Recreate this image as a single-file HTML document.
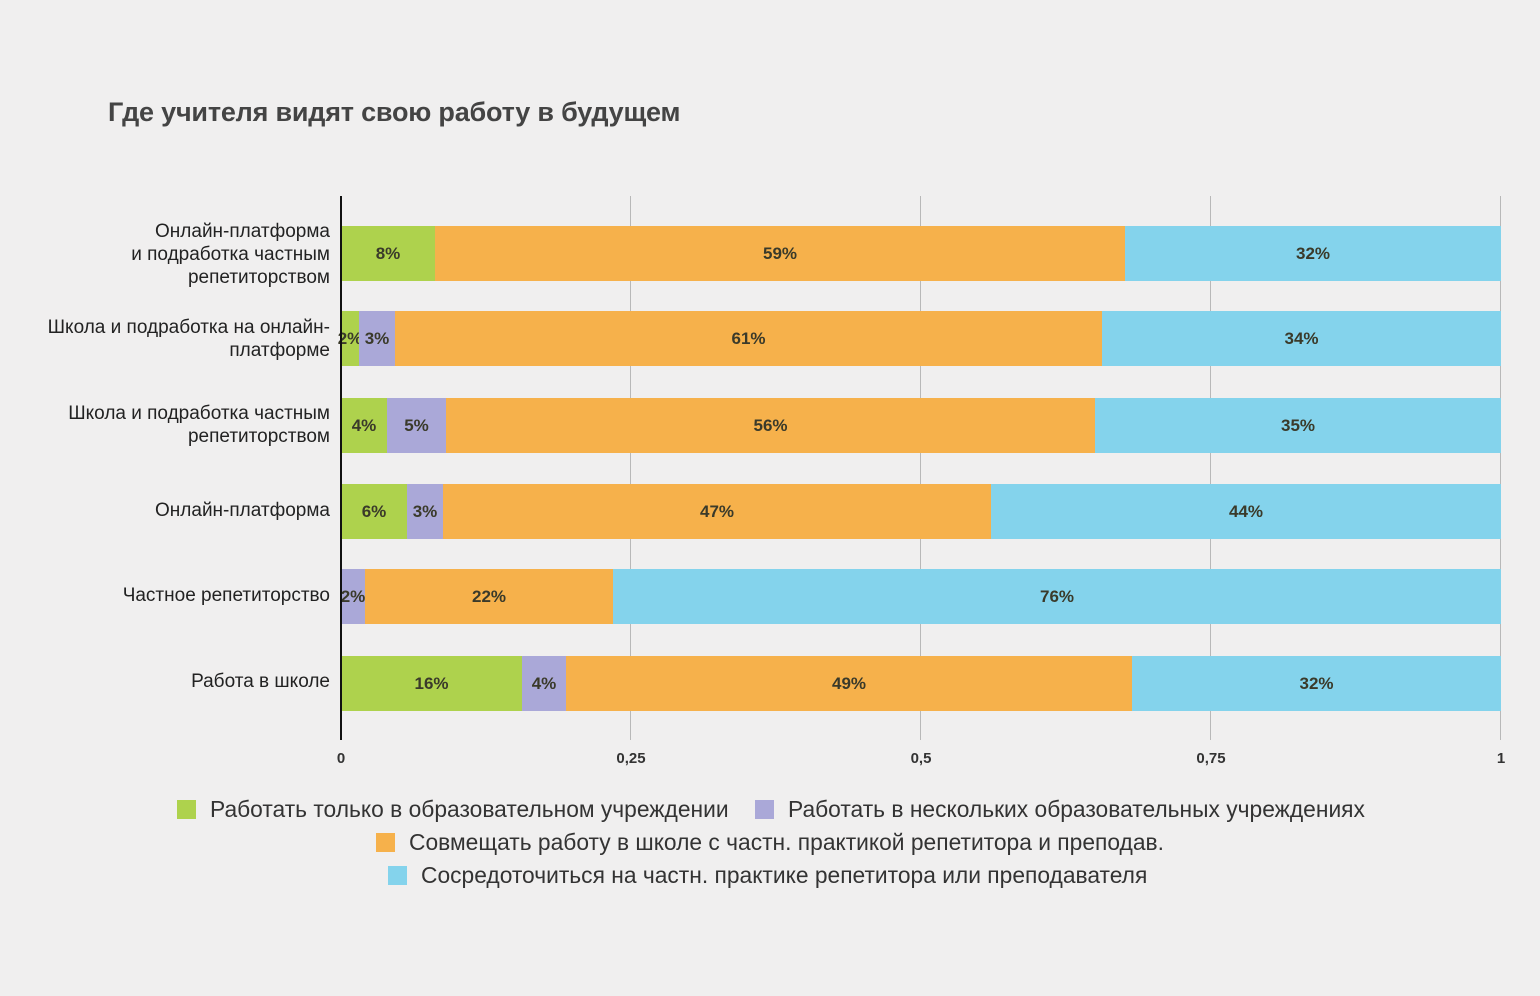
<!DOCTYPE html>
<html><head><meta charset="utf-8"><style>
body{margin:0;width:1540px;height:996px;background:#f0efef;position:relative;overflow:hidden;font-family:"Liberation Sans","DejaVu Sans",sans-serif;}
.a{position:absolute;}
.g{position:absolute;top:196px;height:544px;width:1px;background:#b8b8b8;}
.s{position:absolute;display:flex;align-items:center;justify-content:center;font-weight:bold;font-size:17px;color:#3a3a2a;height:55px;}
.lab{position:absolute;right:1210px;text-align:right;font-size:19px;color:#222;line-height:23px;white-space:nowrap;}
.t{position:absolute;top:750px;font-size:15px;font-weight:bold;color:#333;transform:translateX(-50%);}
.lg{position:absolute;font-size:22.8px;color:#333;white-space:nowrap;}
.sq{display:inline-block;width:19px;height:19px;vertical-align:-2px;margin-right:14px;}
</style></head><body>
<div class="a" style="left:108px;top:97px;font-size:27px;font-weight:bold;color:#444;letter-spacing:-0.2px;">Где учителя видят свою работу в будущем</div>
<div class="g" style="left:630px"></div><div class="g" style="left:920px"></div><div class="g" style="left:1210px"></div><div class="g" style="left:1500px"></div>

<div class="s" style="top:226px;left:341px;width:94px;background:#aed24d">8%</div>
<div class="s" style="top:226px;left:435px;width:690px;background:#f6b14b">59%</div>
<div class="s" style="top:226px;left:1125px;width:376px;background:#84d3ec">32%</div>

<div class="s" style="top:311px;left:341px;width:18px;background:#aed24d;overflow:visible">2%</div>
<div class="s" style="top:311px;left:359px;width:36px;background:#aaa8d8">3%</div>
<div class="s" style="top:311px;left:395px;width:707px;background:#f6b14b">61%</div>
<div class="s" style="top:311px;left:1102px;width:399px;background:#84d3ec">34%</div>

<div class="s" style="top:398px;left:341px;width:46px;background:#aed24d">4%</div>
<div class="s" style="top:398px;left:387px;width:59px;background:#aaa8d8">5%</div>
<div class="s" style="top:398px;left:446px;width:649px;background:#f6b14b">56%</div>
<div class="s" style="top:398px;left:1095px;width:406px;background:#84d3ec">35%</div>

<div class="s" style="top:484px;left:341px;width:66px;background:#aed24d">6%</div>
<div class="s" style="top:484px;left:407px;width:36px;background:#aaa8d8">3%</div>
<div class="s" style="top:484px;left:443px;width:548px;background:#f6b14b">47%</div>
<div class="s" style="top:484px;left:991px;width:510px;background:#84d3ec">44%</div>

<div class="s" style="top:569px;left:341px;width:24px;background:#aaa8d8">2%</div>
<div class="s" style="top:569px;left:365px;width:248px;background:#f6b14b">22%</div>
<div class="s" style="top:569px;left:613px;width:888px;background:#84d3ec">76%</div>

<div class="s" style="top:656px;left:341px;width:181px;background:#aed24d">16%</div>
<div class="s" style="top:656px;left:522px;width:44px;background:#aaa8d8">4%</div>
<div class="s" style="top:656px;left:566px;width:566px;background:#f6b14b">49%</div>
<div class="s" style="top:656px;left:1132px;width:369px;background:#84d3ec">32%</div>

<div class="a" style="left:340px;top:196px;width:2px;height:544px;background:#111"></div>

<div class="lab" style="top:220px">Онлайн-платформа<br>и подработка частным<br>репетиторством</div>
<div class="lab" style="top:316px">Школа и подработка на онлайн-<br>платформе</div>
<div class="lab" style="top:402px">Школа и подработка частным<br>репетиторством</div>
<div class="lab" style="top:499px">Онлайн-платформа</div>
<div class="lab" style="top:584px">Частное репетиторство</div>
<div class="lab" style="top:670px">Работа в школе</div>

<div class="t" style="left:341px">0</div>
<div class="t" style="left:631px">0,25</div>
<div class="t" style="left:921px">0,5</div>
<div class="t" style="left:1211px">0,75</div>
<div class="t" style="left:1501px">1</div>

<div class="lg" style="left:177px;top:796px"><span class="sq" style="background:#aed24d"></span>Работать только в образовательном учреждении</div>
<div class="lg" style="left:755px;top:796px"><span class="sq" style="background:#aaa8d8"></span>Работать в нескольких образовательных учреждениях</div>
<div class="lg" style="left:376px;top:829px"><span class="sq" style="background:#f6b14b"></span>Совмещать работу в школе с частн. практикой репетитора и преподав.</div>
<div class="lg" style="left:388px;top:862px"><span class="sq" style="background:#84d3ec"></span>Сосредоточиться на частн. практике репетитора или преподавателя</div>
</body></html>
